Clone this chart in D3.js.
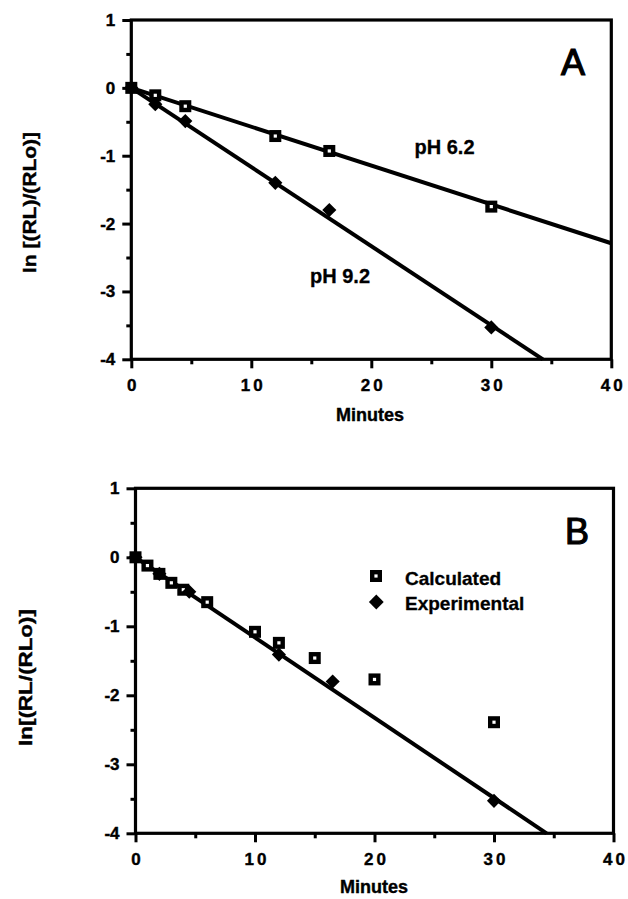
<!DOCTYPE html>
<html>
<head>
<meta charset="utf-8">
<script src="https://cdn.jsdelivr.net/npm/d3@7"></script>
<style>
  body { margin: 0; background: #fff; }
  svg { display: block; font-family: "Liberation Sans", Arial, Helvetica, sans-serif; }
</style>
</head>
<body>
<svg id="chart" width="628" height="899"></svg>
<script>
// values
const xTicks = [0, 10, 20, 30, 40];
const xMinor = [5, 15, 25, 35];
const yTicks = [1, 0, -1, -2, -3, -4];
const yMinor = [0.5, -0.5, -1.5, -2.5, -3.5];

// panel A
const minutesA62 = [0, 2, 4.5, 12, 16.5, 30];
const lnA62 = [0, -0.11, -0.27, -0.71, -0.93, -1.75];
const minutesA92 = [0, 2, 4.5, 12, 16.5, 30];
const lnA92 = [0, -0.24, -0.49, -1.40, -1.80, -3.53];
const fitA62 = [[0, 0], [40, -2.29]];
const fitA92 = [[0, 0], [34.3, -4]];

// panel B
const calcMinutes = [0, 1, 2, 3, 4, 6, 10, 12, 15, 20, 30];
const calcLn = [0, -0.12, -0.24, -0.37, -0.47, -0.65, -1.08, -1.24, -1.46, -1.77, -2.39];
const expMinutes = [0, 2, 4.5, 12, 16.5, 30];
const expLn = [0, -0.24, -0.50, -1.41, -1.80, -3.53];
const fitB = [[0, 0], [34.4, -4]];

const svg = d3.select("#chart");

function panel(opt) {
  const x = d3.scaleLinear().domain([0, 40]).range([opt.left, opt.right]);
  const y = d3.scaleLinear().domain([1, -4]).range([opt.top, opt.bottom]);
  const g = svg.append("g");

  // ticks
  const ax = g.append("g").attr("transform", `translate(0,${opt.bottom})`)
    .call(d3.axisBottom(x).tickValues(xTicks).tickSize(9).tickPadding(0));
  g.append("g").attr("transform", `translate(0,${opt.bottom})`)
    .call(d3.axisBottom(x).tickValues(xMinor).tickSize(5).tickFormat(""));
  const ay = g.append("g").attr("transform", `translate(${opt.left},0)`)
    .call(d3.axisLeft(y).tickValues(yTicks).tickSize(9).tickPadding(7).tickFormat(d3.format("d")));
  g.append("g").attr("transform", `translate(${opt.left},0)`)
    .call(d3.axisLeft(y).tickValues(yMinor).tickSize(5).tickFormat(""));

  g.selectAll(".domain").remove();
  g.selectAll(".tick line").attr("stroke", "#000").attr("stroke-width", 3);

  ax.selectAll(".tick text")
    .attr("y", 32).attr("dy", 0).attr("dx", 1.5)
    .style("font-size", "17px").style("font-weight", "bold")
    .style("letter-spacing", "3px").attr("fill", "#000")
    .attr("stroke", "#000").attr("stroke-width", 0.4);
  ay.selectAll(".tick text")
    .text(d => d < 0 ? "-" + Math.abs(d) : d)
    .style("font-size", "17px").style("font-weight", "bold").attr("fill", "#000")
    .attr("stroke", "#000").attr("stroke-width", 0.4);

  // frame
  g.append("rect")
    .attr("x", x(0)).attr("y", y(1))
    .attr("width", x(40) - x(0)).attr("height", y(-4) - y(1))
    .attr("fill", "none").attr("stroke", "#000").attr("stroke-width", 3.2);

  // axis titles
  g.append("text")
    .attr("x", opt.xTitleX).attr("y", opt.xTitleY)
    .attr("text-anchor", "middle")
    .style("font-size", "18px").style("font-weight", "bold")
    .attr("stroke", "#000").attr("stroke-width", 0.4)
    .text("Minutes");
  g.append("text")
    .attr("transform", `translate(${opt.yTitleX},${opt.yTitleY}) rotate(-90)`)
    .attr("text-anchor", "middle")
    .attr("textLength", opt.yTitleLen).attr("lengthAdjust", "spacingAndGlyphs")
    .style("font-size", "19px").style("font-weight", "bold")
    .attr("stroke", "#000").attr("stroke-width", 0.4)
    .text(opt.yTitle);

  g.append("text")
    .attr("x", opt.letterX).attr("y", opt.letterY)
    .style("font-size", "36px")
    .attr("stroke", "#000").attr("stroke-width", 1.2)
    .text(opt.letter);

  return { g, x, y };
}

const line = (x, y) => d3.line().x(d => x(d[0])).y(d => y(d[1]));

function squares(g, x, y, xs, ys) {
  const s = g.append("g").selectAll("g").data(xs.map((d, i) => [d, ys[i]])).join("g")
    .attr("transform", d => `translate(${x(d[0])},${y(d[1])})`);
  s.append("rect").attr("x", -6).attr("y", -6).attr("width", 12).attr("height", 12).attr("fill", "#000");
  s.append("rect").attr("x", -1.6).attr("y", -1.6).attr("width", 3.2).attr("height", 3.2).attr("fill", "#fff");
}

function diamonds(g, x, y, xs, ys) {
  g.append("g").selectAll("path").data(xs.map((d, i) => [d, ys[i]])).join("path")
    .attr("d", d3.symbol(d3.symbolSquare, 100))
    .attr("transform", d => `translate(${x(d[0])},${y(d[1])}) rotate(45)`)
    .attr("fill", "#000");
}

function fit(p, data) {
  p.g.append("path").datum(data).attr("d", line(p.x, p.y))
    .attr("fill", "none").attr("stroke", "#000").attr("stroke-width", 4);
}

// ---- A ----
const A = panel({
  left: 131.3, right: 611.3, top: 20, bottom: 359.3,
  xTitleX: 370, xTitleY: 421,
  yTitleX: 36, yTitleY: 202.5, yTitleLen: 141, yTitle: "ln [(RL)/(RLo)]",
  letter: "A", letterX: 561, letterY: 75
});
fit(A, fitA62);
fit(A, fitA92);
squares(A.g, A.x, A.y, minutesA62, lnA62);
diamonds(A.g, A.x, A.y, minutesA92, lnA92);
A.g.append("text").attr("x", 414.5).attr("y", 154)
  .style("font-size", "20px").style("font-weight", "bold")
  .attr("stroke", "#000").attr("stroke-width", 0.3).text("pH 6.2");
A.g.append("text").attr("x", 310).attr("y", 283.3)
  .style("font-size", "20px").style("font-weight", "bold")
  .attr("stroke", "#000").attr("stroke-width", 0.3).text("pH 9.2");

// ---- B ----
const B = panel({
  left: 135.5, right: 613.5, top: 488.3, bottom: 833.3,
  xTitleX: 374, xTitleY: 893,
  yTitleX: 32, yTitleY: 677.5, yTitleLen: 137, yTitle: "ln[(RL/(RLo)]",
  letter: "B", letterX: 565, letterY: 544
});
fit(B, fitB);
squares(B.g, B.x, B.y, calcMinutes, calcLn);
diamonds(B.g, B.x, B.y, expMinutes, expLn);

// legend
const legendItems = ["Calculated", "Experimental"];
const lg = B.g.append("g");
const lgSq = lg.append("g").attr("transform", "translate(376,576)");
lgSq.append("rect").attr("x", -6).attr("y", -6).attr("width", 12).attr("height", 12).attr("fill", "#000");
lgSq.append("rect").attr("x", -1.6).attr("y", -1.6).attr("width", 3.2).attr("height", 3.2).attr("fill", "#fff");
lg.append("path").attr("d", d3.symbol(d3.symbolSquare, 110))
  .attr("transform", "translate(376.3,602) rotate(45)").attr("fill", "#000");
lg.selectAll("text").data(legendItems).join("text")
  .attr("x", 405).attr("y", (d, i) => 585 + i * 25)
  .style("font-size", "19px").style("font-weight", "bold")
  .attr("stroke", "#000").attr("stroke-width", 0.3)
  .text(d => d);
</script>
</body>
</html>
